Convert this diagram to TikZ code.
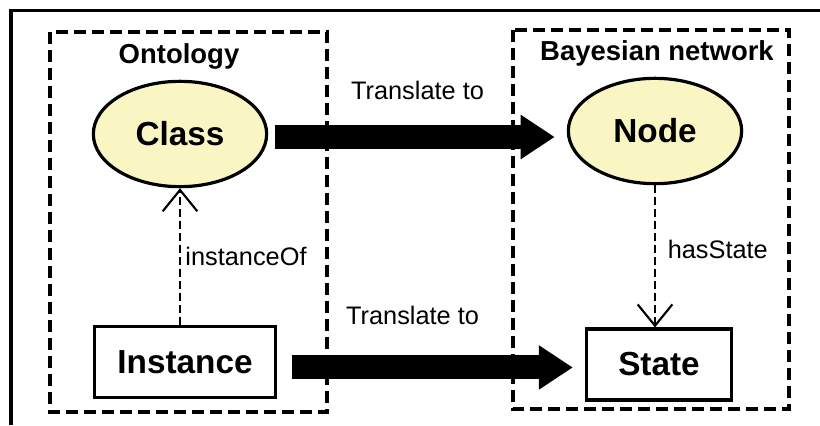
\documentclass[tikz,border=0pt]{standalone}
\usepackage{fontspec}
\setmainfont{Liberation Sans}
\usepackage{tikz}
\usetikzlibrary{
    arrows.meta,
    shapes.geometric
}
\definecolor{classfill}{RGB}{250,246,196}

\begin{document}
\begin{tikzpicture}[x=0.75pt, y=-0.75pt,
    concept/.style={ellipse, draw, line width=2.4pt, fill=classfill,
        minimum width=130pt, minimum height=79pt, inner sep=0pt,
        font=\fontsize{25}{28}\selectfont\bfseries},
    entity/.style={rectangle, draw, line width=2.6pt, minimum height=53pt,
        inner sep=0pt, font=\fontsize{25}{28}\selectfont\bfseries},
    groupbox/.style={draw, line width=2.6pt, dash pattern=on 9pt off 4.5pt},
    grouptitle/.style={anchor=base, font=\fontsize{20.6}{24}\selectfont\bfseries},
    translate/.style={line width=18pt, -{Triangle[length=25.5pt, width=31.5pt]}},
    reflink/.style={line width=1.2pt, dash pattern=on 6pt off 3pt,
        -{Straight Barb[length=16pt, width=26pt, line width=1.6pt]}},
    linklabel/.style={font=\fontsize{19}{22}\selectfont, inner sep=0pt}
]
  \useasboundingbox (0,0) rectangle (820,425);

  % frame
  \draw[line width=2.4pt] (11,425) -- (11,10.5) -- (820,10.5);

  % groups
  \draw[groupbox] (50,32) rectangle (327,412);
  \draw[groupbox] (513,30) rectangle (789,409);
  \node[grouptitle] (ontotitle) at (179,63) {Ontology};
  \node[grouptitle] (bntitle) at (657,60) {Bayesian network};

  \node[concept] (class) at (180,134) {Class};
  \node[concept] (bnnode) at (655,131) {Node};
  \node[entity, minimum width=136pt] (instance) at (185,362) {Instance};
  \node[entity, minimum width=109pt] (state) at (659,364.5) {State};

  % translations
  \draw[translate, shorten <=5pt, shorten >=9pt]
    ([yshift=-2.25pt]class.east) -- ([yshift=-2.25pt]class.east -| bnnode.west)
    node[linklabel, midway, above=19pt] {Translate to};
  \draw[translate, shorten <=11pt, shorten >=8.8pt]
    ([yshift=-4.1pt]instance.east) -- ([yshift=-4.1pt]instance.east -| state.west)
    node[linklabel, pos=0.44, above=22.9pt] {Translate to};

  % relations
  \draw[reflink] (instance.north -| class.south) -- (class.south)
    node[linklabel, midway, right=3.5pt] {instanceOf};
  \draw[reflink] (bnnode.south) -- (bnnode.south |- state.north)
    node[linklabel, pos=0.45, right=9pt] {hasState};
\end{tikzpicture}
\end{document}
